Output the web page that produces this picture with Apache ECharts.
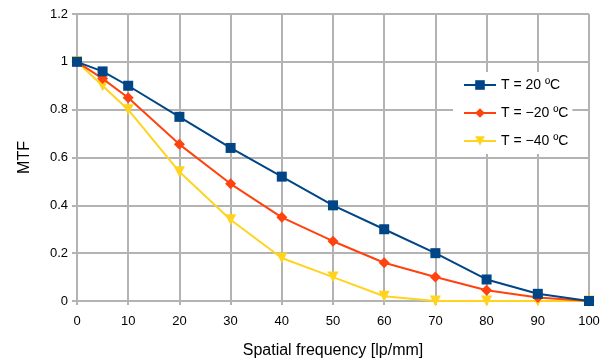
<!DOCTYPE html>
<html>
<head>
<meta charset="utf-8">
<script src="https://cdn.jsdelivr.net/npm/echarts@6/dist/echarts.min.js"></script>
<style>
  html, body { margin: 0; padding: 0; background: #fff; }
  #graphMain { width: 609px; height: 360px; }
</style>
</head>
<body>
<div id="graphMain"></div>
<script>
// spatial frequency (lp/mm)
const freqs = [0, 5, 10, 20, 30, 40, 50, 60, 70, 80, 90, 100]
// MTF values
const mtfPlus20 = [1, 0.96, 0.90, 0.77, 0.64, 0.52, 0.40, 0.30, 0.20, 0.09, 0.03, 0]
const mtfMinus20 = [1, 0.93, 0.85, 0.655, 0.49, 0.35, 0.25, 0.16, 0.10, 0.045, 0.015, 0]
const mtfMinus40 = [1, 0.90, 0.80, 0.54, 0.34, 0.18, 0.10, 0.02, 0, 0, 0, 0]
const seriesNames = ['T = 20 ºC', 'T = \u221220 ºC', 'T = \u221240 ºC']

const pair = (ys) => freqs.map((x, i) => [x, ys[i]])
const gridColor = '#b3b3b3'
const font = 'Liberation Sans, Arial, sans-serif'

const chart = echarts.init(document.getElementById('graphMain'), null, { renderer: 'canvas' })

function lineSeries (name, data, color, symbol, size, z) {
  return {
    name: name,
    type: 'line',
    z: z,
    data: pair(data),
    symbol: symbol,
    symbolSize: size,
    showAllSymbol: true,
    lineStyle: { color: color, width: 2 },
    itemStyle: { color: color },
    emphasis: { disabled: true },
    animation: false
  }
}

chart.setOption({
  animation: false,
  textStyle: { fontFamily: font },
  grid: { left: 77, right: 20, top: 14, bottom: 59, containLabel: false, outerBoundsMode: 'none' },
  legend: {
    orient: 'vertical',
    left: 453,
    top: 72,
    itemWidth: 32,
    itemHeight: 12,
    itemGap: 14,
    padding: [6, 4, 6, 10],
    backgroundColor: '#fff',
    textStyle: { fontSize: 14, color: '#000', fontFamily: font },
    data: seriesNames
  },
  xAxis: {
    type: 'value',
    min: 0,
    max: 100,
    interval: 10,
    name: 'Spatial frequency [lp/mm]',
    nameLocation: 'middle',
    nameGap: 42,
    nameTextStyle: { fontSize: 16, color: '#000' },
    axisLine: { show: true, onZero: false, lineStyle: { color: gridColor, width: 2 } },
    axisTick: { show: true, length: 4, lineStyle: { color: gridColor, width: 2 } },
    axisLabel: { fontSize: 13, color: '#000', margin: 14 },
    splitLine: { show: true, lineStyle: { color: gridColor, width: 2 } }
  },
  yAxis: {
    type: 'value',
    min: 0,
    max: 1.2,
    interval: 0.2,
    name: 'MTF',
    nameLocation: 'middle',
    nameGap: 44,
    nameRotate: 90,
    nameTextStyle: { fontSize: 16, color: '#000' },
    axisLine: { show: true, lineStyle: { color: gridColor, width: 2 } },
    axisTick: { show: true, length: 5, lineStyle: { color: gridColor, width: 2 } },
    axisLabel: { fontSize: 13, color: '#000', margin: 9 },
    splitLine: { show: true, lineStyle: { color: gridColor, width: 2 } }
  },
  series: [
    lineSeries(seriesNames[0], mtfPlus20, '#004586', 'rect', 10, 4),
    lineSeries(seriesNames[1], mtfMinus20, '#ff420e', 'diamond', 11, 3),
    lineSeries(seriesNames[2], mtfMinus40, '#ffd320', 'path://M0,0 L10,0 L5,10 Z', 11, 2)
  ]
})
</script>
</body>
</html>
